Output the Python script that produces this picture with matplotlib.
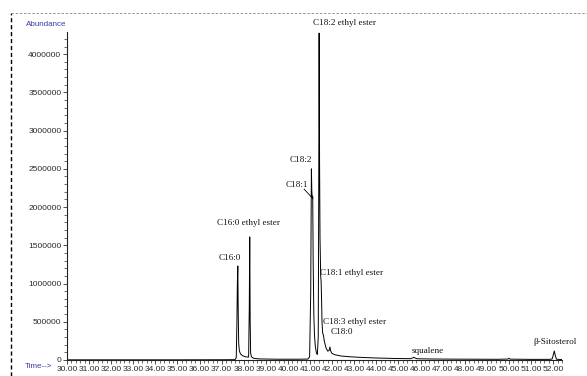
import numpy as np
import matplotlib
matplotlib.use('Agg')
import matplotlib.pyplot as plt
from matplotlib.ticker import MultipleLocator, FuncFormatter
from matplotlib.lines import Line2D

# retention time (min) and abundance
time = [30.00, 31.00, 33.00, 35.00, 37.00, 37.60, 37.66, 37.69, 37.71, 37.73, 37.75, 37.77,
        37.80, 37.85, 37.95, 38.10, 38.22, 38.25, 38.27, 38.29, 38.31, 38.35, 38.45, 38.70,
        39.50, 40.50, 40.90, 40.98, 41.03, 41.06, 41.08, 41.10, 41.12, 41.14, 41.17, 41.20,
        41.24, 41.29, 41.33, 41.37, 41.39, 41.41, 41.43, 41.45, 41.48, 41.50, 41.52, 41.54,
        41.57, 41.60, 41.65, 41.72, 41.80, 41.86, 41.90, 41.93, 41.98, 42.10, 42.40, 42.80,
        43.30, 44.00, 44.80, 45.55, 45.65, 45.70, 45.75, 45.85, 46.50, 47.50, 48.50, 49.50,
        49.95, 50.00, 50.05, 51.00, 51.80, 51.95, 52.00, 52.05, 52.10, 52.15, 52.30, 52.40]
abundance = [2000, 2000, 2000, 2000, 3000, 4000, 30000, 500000, 1000000, 1230000, 600000, 220000,
             120000, 80000, 55000, 40000, 38000, 700000, 1610000, 500000, 90000, 40000, 22000, 14000,
             10000, 10000, 12000, 40000, 900000, 2500000, 2200000, 2130000, 2140000, 1300000, 600000, 320000,
             170000, 90000, 70000, 300000, 2000000, 4275000, 2600000, 1600000, 1100000, 1030000, 800000, 500000,
             350000, 330000, 240000, 160000, 115000, 125000, 170000, 120000, 90000, 70000, 52000, 42000,
             34000, 26000, 20000, 17000, 28000, 35000, 26000, 16000, 13000, 11000, 10000, 9000,
             12000, 22000, 11000, 8000, 8000, 12000, 60000, 118000, 55000, 10000, 7000, 6000]

# peak labels: text, x, y, alignment
peak_labels = ['C18:2 ethyl ester', 'C18:2', 'C18:1', 'C16:0 ethyl ester', 'C16:0',
               'C18:1 ethyl ester', 'C18:3 ethyl ester', 'C18:0', 'squalene', '\u03b2-Sitosterol']
label_x = [41.14, 40.59, 40.40, 38.23, 37.36, 41.45, 41.59, 41.91, 46.32, 52.09]
label_y = [4405000, 2614000, 2288000, 1791000, 1333000, 1137000, 497000, 366000, 118000, 235000]
label_ha = ['left', 'center', 'center', 'center', 'center', 'left', 'left', 'left', 'center', 'center']

fig = plt.figure(figsize=(5.87, 3.76), dpi=100)
ax = fig.add_axes([0.1141, 0.0426, 0.8433, 0.8723])

ax.plot(time, abundance, color='black', lw=0.7)

ax.set_xlim(30, 52.4)
ax.set_ylim(0, 4290000)

for s in ['top', 'right']:
    ax.spines[s].set_visible(False)
for s in ['left', 'bottom']:
    ax.spines[s].set_linewidth(0.8)
    ax.spines[s].set_color('#222222')

ax.xaxis.set_major_locator(MultipleLocator(1))
ax.xaxis.set_minor_locator(MultipleLocator(0.2))
ax.yaxis.set_major_locator(MultipleLocator(500000))
ax.yaxis.set_minor_locator(MultipleLocator(100000))
ax.xaxis.set_major_formatter(FuncFormatter(lambda v, p: '%.2f' % v))
ax.yaxis.set_major_formatter(FuncFormatter(lambda v, p: '%d' % v))

ax.tick_params(axis='both', which='major', labelsize=6, labelcolor='#2a2a2a',
               color='#333333', width=0.6, length=3, pad=1)
ax.tick_params(axis='both', which='minor', color='#333333', width=0.5, length=2)
for lab in ax.get_xticklabels() + ax.get_yticklabels():
    lab.set_fontfamily('Liberation Sans')

for t, x, y, ha in zip(peak_labels, label_x, label_y, label_ha):
    ax.text(x, y, t, ha=ha, va='center', fontsize=6.6, family='Liberation Serif',
            color='#111111', clip_on=False)

# leader line from C18:1 label to its peak
ax.plot([40.73, 41.13], [2235000, 2110000], color='black', lw=0.6)

fig.text(66 / 587, 1 - 24 / 376, 'Abundance', ha='right', va='center', fontsize=5.8,
         family='Liberation Sans', color='#3a3aa0')
fig.text(25 / 587, 1 - 366 / 376, 'Time-->', ha='left', va='center', fontsize=5.8,
         family='Liberation Sans', color='#3a3aa0')

# dashed frame (left and top)
fig.add_artist(Line2D([11 / 587, 11 / 587], [0, 1 - 13 / 376], transform=fig.transFigure,
                      color='black', lw=1.0, ls=(0, (3, 2))))
fig.add_artist(Line2D([11 / 587, 1], [1 - 13 / 376, 1 - 13 / 376], transform=fig.transFigure,
                      color='#888888', lw=0.6, ls=(0, (3, 2))))

fig.savefig('out.png', dpi=100)
